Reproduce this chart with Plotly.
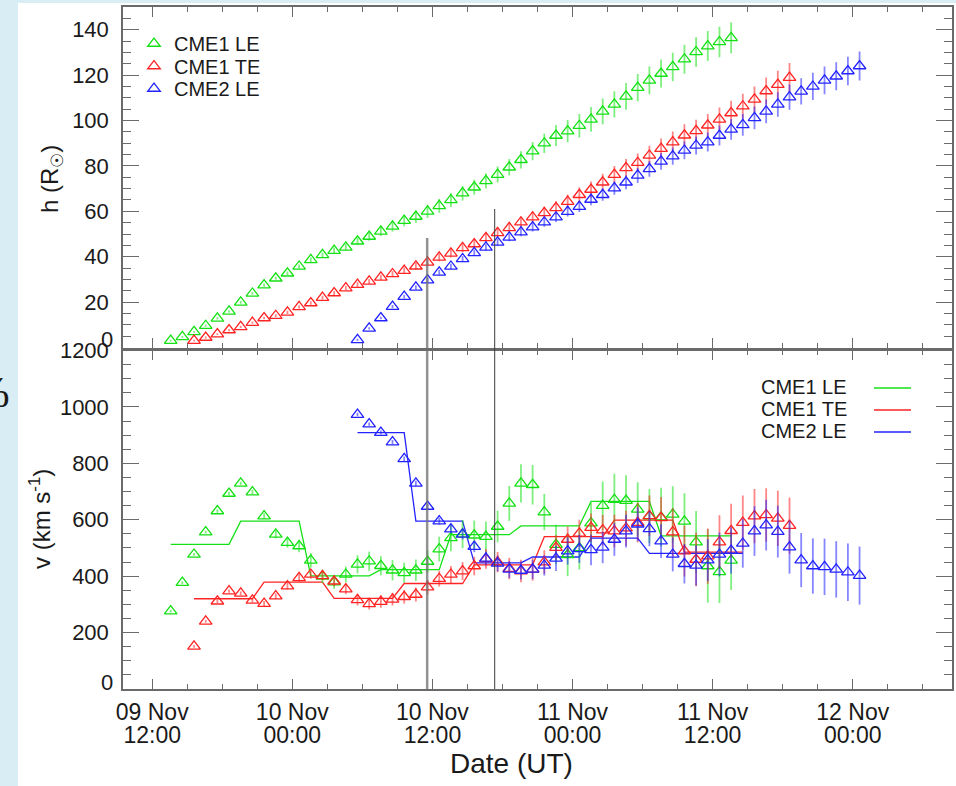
import plotly.graph_objects as go

# ---------------- data ----------------
green_time = [
    "2012-11-09 13:35", "2012-11-09 14:35", "2012-11-09 15:35", "2012-11-09 16:35", "2012-11-09 17:35",
    "2012-11-09 18:35", "2012-11-09 19:35", "2012-11-09 20:35", "2012-11-09 21:35", "2012-11-09 22:35",
    "2012-11-09 23:35",
    "2012-11-10 00:35", "2012-11-10 01:35", "2012-11-10 02:35", "2012-11-10 03:35", "2012-11-10 04:35",
    "2012-11-10 05:35", "2012-11-10 06:35", "2012-11-10 07:35", "2012-11-10 08:35", "2012-11-10 09:35",
    "2012-11-10 10:35", "2012-11-10 11:35", "2012-11-10 12:35", "2012-11-10 13:35", "2012-11-10 14:35",
    "2012-11-10 15:35", "2012-11-10 16:35", "2012-11-10 17:35", "2012-11-10 18:35", "2012-11-10 19:35",
    "2012-11-10 20:35", "2012-11-10 21:35", "2012-11-10 22:35", "2012-11-10 23:35",
    "2012-11-11 00:35", "2012-11-11 01:35", "2012-11-11 02:35", "2012-11-11 03:35", "2012-11-11 04:35",
    "2012-11-11 05:35", "2012-11-11 06:35", "2012-11-11 07:35", "2012-11-11 08:35", "2012-11-11 09:35",
    "2012-11-11 10:35", "2012-11-11 11:35", "2012-11-11 12:35", "2012-11-11 13:35",
]
red_time = [
    "2012-11-09 15:35", "2012-11-09 16:35", "2012-11-09 17:35", "2012-11-09 18:35", "2012-11-09 19:35",
    "2012-11-09 20:35", "2012-11-09 21:35", "2012-11-09 22:35", "2012-11-09 23:35",
    "2012-11-10 00:35", "2012-11-10 01:35", "2012-11-10 02:35", "2012-11-10 03:35", "2012-11-10 04:35",
    "2012-11-10 05:35", "2012-11-10 06:35", "2012-11-10 07:35", "2012-11-10 08:35", "2012-11-10 09:35",
    "2012-11-10 10:35", "2012-11-10 11:35", "2012-11-10 12:35", "2012-11-10 13:35", "2012-11-10 14:35",
    "2012-11-10 15:35", "2012-11-10 16:35", "2012-11-10 17:35", "2012-11-10 18:35", "2012-11-10 19:35",
    "2012-11-10 20:35", "2012-11-10 21:35", "2012-11-10 22:35", "2012-11-10 23:35",
    "2012-11-11 00:35", "2012-11-11 01:35", "2012-11-11 02:35", "2012-11-11 03:35", "2012-11-11 04:35",
    "2012-11-11 05:35", "2012-11-11 06:35", "2012-11-11 07:35", "2012-11-11 08:35", "2012-11-11 09:35",
    "2012-11-11 10:35", "2012-11-11 11:35", "2012-11-11 12:35", "2012-11-11 13:35", "2012-11-11 14:35",
    "2012-11-11 15:35", "2012-11-11 16:35", "2012-11-11 17:35", "2012-11-11 18:35",
]
blue_time = [
    "2012-11-10 05:35", "2012-11-10 06:35", "2012-11-10 07:35", "2012-11-10 08:35", "2012-11-10 09:35",
    "2012-11-10 10:35", "2012-11-10 11:35", "2012-11-10 12:35", "2012-11-10 13:35", "2012-11-10 14:35",
    "2012-11-10 15:35", "2012-11-10 16:35", "2012-11-10 17:35", "2012-11-10 18:35", "2012-11-10 19:35",
    "2012-11-10 20:35", "2012-11-10 21:35", "2012-11-10 22:35", "2012-11-10 23:35",
    "2012-11-11 00:35", "2012-11-11 01:35", "2012-11-11 02:35", "2012-11-11 03:35", "2012-11-11 04:35",
    "2012-11-11 05:35", "2012-11-11 06:35", "2012-11-11 07:35", "2012-11-11 08:35", "2012-11-11 09:35",
    "2012-11-11 10:35", "2012-11-11 11:35", "2012-11-11 12:35", "2012-11-11 13:35", "2012-11-11 14:35",
    "2012-11-11 15:35", "2012-11-11 16:35", "2012-11-11 17:35", "2012-11-11 18:35", "2012-11-11 19:35",
    "2012-11-11 20:35", "2012-11-11 21:35", "2012-11-11 22:35", "2012-11-11 23:35",
    "2012-11-12 00:35",
]

# heights (R_sun)
green_h = [3.0, 4.7, 6.9, 9.6, 12.8, 15.9, 19.9, 23.8, 27.5, 30.5,
           32.7, 35.7, 38.6, 40.8, 42.7, 44.1, 46.8, 48.9, 51.2, 53.4,
           55.9, 57.7, 60.0, 62.4, 65.0, 68.0, 70.6, 73.4, 76.2, 79.4,
           82.7, 86.5, 90.0, 93.4, 95.3, 97.7, 100.5, 104.0, 107.1, 110.6,
           114.5, 117.7, 120.7, 123.6, 127.0, 130.2, 132.8, 134.6, 136.4]
red_h = [3.0, 4.4, 5.9, 7.7, 9.1, 11.0, 13.0, 14.0, 15.5, 17.9,
         19.6, 22.0, 24.0, 26.2, 27.7, 29.1, 30.9, 32.4, 33.9, 35.8,
         37.5, 39.7, 41.5, 43.9, 45.6, 48.3, 50.5, 52.7, 55.2, 57.4,
         59.3, 61.5, 64.3, 67.3, 69.6, 72.8, 76.2, 79.1, 81.4, 84.6,
         87.6, 90.5, 93.5, 95.4, 97.9, 100.5, 103.3, 106.3, 109.3, 113.0,
         115.8, 118.9]
blue_h = [3.4, 8.4, 13.0, 18.0, 22.4, 26.5, 29.7, 33.1, 35.7, 39.0,
          41.7, 44.1, 46.3, 48.5, 50.8, 53.0, 55.2, 57.4, 59.9, 62.1,
          65.2, 67.3, 70.2, 72.8, 75.8, 78.7, 82.0, 84.3, 86.8, 89.0,
          90.5, 93.4, 96.1, 98.1, 101.2, 104.0, 107.1, 110.3, 112.8, 115.0,
          117.7, 119.5, 121.8, 124.0]

green_h_err = [0.4, 0.4, 0.4, 0.5, 0.5, 0.5, 0.6, 0.6, 0.7, 0.7,
               0.8, 0.9, 1.0, 1.1, 1.3, 1.5, 1.7, 1.9, 2.1, 2.3,
               2.5, 2.7, 2.9, 3.0, 3.1, 3.2, 3.3, 3.4, 3.5, 3.6,
               3.8, 4.0, 4.3, 4.6, 4.9, 5.2, 5.5, 5.7, 5.8, 5.9,
               6.0, 6.1, 6.2, 6.3, 6.4, 6.5, 6.6, 6.7, 6.8]
red_h_err = [0.4, 0.4, 0.4, 0.5, 0.5, 0.5, 0.6, 0.6, 0.7, 0.7,
             0.8, 0.8, 0.9, 1.0, 1.0, 1.1, 1.2, 1.3, 1.4, 1.5,
             1.6, 1.7, 1.8, 1.9, 2.0, 2.1, 2.2, 2.3, 2.4, 2.5,
             2.7, 2.9, 3.1, 3.3, 3.5, 3.7, 3.8, 3.9, 4.1, 4.3,
             4.5, 4.6, 4.8, 4.9, 5.0, 5.2, 5.4, 5.5, 5.7, 5.9,
             6.1, 6.4]
blue_h_err = [0.5, 0.5, 0.6, 0.7, 0.8, 0.9, 1.0, 1.1, 1.2, 1.3,
              1.4, 1.5, 1.6, 1.7, 1.8, 1.9, 2.0, 2.1, 2.2, 2.4,
              2.5, 2.7, 2.9, 3.1, 3.3, 3.5, 3.7, 3.8, 3.9, 4.0,
              4.2, 4.4, 4.6, 4.8, 5.0, 5.2, 5.4, 5.6, 5.8, 6.0,
              6.1, 6.2, 6.3, 6.4]

# speeds (km/s)
green_v = [276, 377, 477, 556, 631, 693, 729, 698, 613, 548,
           519, 507, 456, 399, 379, 406, 442, 453, 437, 421,
           412, 421, 452, 496, 536, 549, 545, 540, 576, 658,
           729, 724, 627, 512, 476, 500, 588, 650, 671, 668,
           637, 613, 609, 619, 594, 521, 436, 415, 456]
red_v = [151, 240, 311, 347, 339, 314, 303, 329, 365, 394,
         406, 401, 382, 354, 316, 302, 310, 318, 327, 335,
         361, 391, 406, 418, 436, 461, 450, 427, 418, 424,
         450, 501, 530, 552, 572, 563, 560, 570, 590, 614,
         607, 556, 489, 459, 471, 521, 561, 590, 613, 617,
         605, 579]
blue_v = [973, 939, 909, 875, 816, 729, 647, 595, 567, 548,
          505, 463, 445, 424, 420, 424, 438, 463, 489, 497,
          493, 502, 530, 560, 584, 568, 524, 477, 444, 438,
          457, 477, 491, 516, 560, 581, 558, 503, 457, 436,
          433, 424, 414, 402]

green_v_err = [5, 5, 5, 5, 6, 6, 6, 8, 10, 14,
               18, 22, 26, 24, 24, 28, 32, 34, 34, 36,
               36, 38, 40, 44, 48, 50, 52, 54, 56, 62,
               68, 70, 64, 70, 76, 76, 72, 86, 92, 90,
               96, 96, 104, 100, 100, 110, 130, 110, 105]
red_v_err = [5, 5, 6, 6, 7, 8, 9, 10, 12, 14,
             15, 16, 18, 18, 20, 20, 22, 22, 24, 25,
             26, 28, 30, 32, 33, 35, 36, 38, 40, 40,
             42, 44, 46, 48, 50, 54, 58, 62, 70, 72,
             74, 85, 90, 95, 98, 95, 96, 96, 96, 95,
             98, 100]
blue_v_err = [6, 6, 7, 8, 8, 9, 10, 12, 15, 18,
              20, 24, 28, 30, 32, 34, 36, 45, 48, 50,
              54, 56, 58, 58, 60, 62, 60, 60, 70, 71,
              74, 78, 82, 86, 88, 90, 92, 94, 96, 98,
              100, 100, 102, 103]

# averaged (stepped) speed profiles
green_fit = [513, 513, 513, 513, 513, 513, 595, 595, 595, 595,
             595, 595, 401, 401, 401, 401, 401, 401, 423, 423,
             423, 423, 423, 423, 547, 547, 547, 547, 547, 547,
             578, 578, 578, 578, 578, 578, 665, 665, 665, 665,
             665, 665, 543, 543, 543, 543, 543, 543, 543]
red_fit = [320, 320, 320, 320, 320, 320, 379, 379, 379, 379,
           379, 379, 321, 321, 321, 321, 321, 321, 374, 374,
           374, 374, 374, 374, 440, 440, 440, 440, 440, 440,
           540, 540, 540, 540, 540, 540, 599, 599, 599, 599,
           599, 599, 485, 485, 485, 485, 485, 485, None, None,
           None, None]
blue_fit = [909, 909, 909, 909, 909, 595, 595, 595, 595, 595,
            447, 447, 447, 447, 447, 468, 468, 468, 468, 468,
            535, 535, 535, 535, 535, 481, 481, 481, 481, 481,
            481, 481, 481, 481, None, None, None, None, None, None,
            None, None, None, None]

series_names = ["CME1 LE", "CME1 TE", "CME2 LE"]
tick_times_iso = ["2012-11-09 12:00", "2012-11-10 00:00", "2012-11-10 12:00",
                  "2012-11-11 00:00", "2012-11-11 12:00", "2012-11-12 00:00"]
tick_day = ["09 Nov", "10 Nov", "10 Nov", "11 Nov", "11 Nov", "12 Nov"]
tick_hour = ["12:00", "00:00", "12:00", "00:00", "12:00", "00:00"]
h_ticks = [20, 40, 60, 80, 100, 120, 140]
v_ticks = [200, 400, 600, 800, 1000, 1200]
event_times = ["2012-11-10 11:33", "2012-11-10 17:20"]

# ---------------- styling ----------------
FONT = "Liberation Sans, Arial, Helvetica, sans-serif"
TXT = "#1a1a1a"
AX = "#6a6a6a"
GREEN, GREEN_E = "rgb(20,225,20)", "rgba(20,225,20,0.55)"
RED, RED_E = "rgb(255,35,35)", "rgba(255,35,35,0.55)"
BLUE, BLUE_E = "rgb(35,35,255)", "rgba(35,35,255,0.55)"
BG = "#d9edf4"

W, H = 956, 786
L, R, T, B = 123, 4, 7, 97
PW, PH = W - L - R, H - T - B


def px(xp):
    return (xp - L) / PW


def py(yp):
    return (T + PH - yp) / PH


fig = go.Figure()

colors = [(GREEN, GREEN_E), (RED, RED_E), (BLUE, BLUE_E)]
tops = [(green_time, green_h, green_h_err), (red_time, red_h, red_h_err), (blue_time, blue_h, blue_h_err)]
bots = [(green_time, green_v, green_v_err), (red_time, red_v, red_v_err), (blue_time, blue_v, blue_v_err)]
fits = [green_fit, red_fit, blue_fit]
legend_ids = ["legend", "legend2", "legend3"]

for (t, h, e), (c, ce), nm, lg in zip(tops, colors, series_names, legend_ids):
    fig.add_trace(go.Scatter(
        x=t, y=h, mode="markers", name=nm, xaxis="x", yaxis="y", legend=lg,
        marker=dict(symbol="triangle-up-open", size=11, color=c, line=dict(width=1.3, color=c)),
        error_y=dict(type="data", array=e, color=ce, thickness=1.8, width=0),
    ))

for (t, v, e), (c, ce), nm, f in zip(bots, colors, series_names, fits):
    fig.add_trace(go.Scatter(
        x=t, y=f, mode="lines", name=nm + " fit", xaxis="x2", yaxis="y2", showlegend=False,
        line=dict(color=c, width=1.3), connectgaps=False,
    ))
for (t, v, e), (c, ce), nm in zip(bots, colors, series_names):
    fig.add_trace(go.Scatter(
        x=t, y=v, mode="markers", name=nm, xaxis="x2", yaxis="y2", showlegend=False,
        marker=dict(symbol="triangle-up-open", size=11, color=c, line=dict(width=1.3, color=c)),
        error_y=dict(type="data", array=e, color=ce, thickness=1.8, width=0),
    ))

# invisible carrier so the second row of time labels (x3) is drawn
fig.add_trace(go.Scatter(
    x=blue_time, y=blue_v, mode="markers", xaxis="x3", yaxis="y2", showlegend=False,
    marker=dict(opacity=0, size=1), hoverinfo="skip", name="",
))

top_dom = [py(347.5), 1.0]
bot_dom = [0.0, py(350.5)]
xrange = ["2012-11-09 09:30", "2012-11-12 08:30"]

xcommon = dict(
    type="date", range=xrange, showline=True, linecolor=AX, linewidth=1.5, mirror="ticks",
    ticks="inside", ticklen=10, tickwidth=1.2, tickcolor=AX,
    tickmode="array", tickvals=tick_times_iso,
    minor=dict(tickmode="linear", tick0="2012-11-09 00:00", dtick=3 * 3600 * 1000,
               ticks="inside", ticklen=5, tickwidth=1.2, tickcolor=AX),
    showgrid=False, zeroline=False, fixedrange=True,
)
ycommon = dict(
    showline=True, linecolor=AX, linewidth=1.5, mirror="ticks",
    ticks="inside", ticklen=16, tickwidth=1.2, tickcolor=AX,
    tickfont=dict(family=FONT, size=22, color=TXT), ticklabelstandoff=8,
    showgrid=False, zeroline=False,
)

legend_rows_top = [43, 65.5, 88]
legend_layout = {}
for lg, yr in zip(legend_ids, legend_rows_top):
    legend_layout[lg] = dict(x=px(134), y=py(yr - 19), xanchor="left", yanchor="top",
                             font=dict(family=FONT, size=20, color=TXT), bgcolor="rgba(0,0,0,0)",
                             itemwidth=30, tracegroupgap=0)

fig.update_layout(
    width=W, height=H,
    margin=dict(l=L, r=R, t=T, b=B, autoexpand=False),
    paper_bgcolor=BG, plot_bgcolor="white",
    font=dict(family=FONT, color=TXT),
    xaxis=dict(**xcommon, domain=[0, 1], anchor="y", showticklabels=False, matches="x2"),
    xaxis2=dict(**xcommon, domain=[0, 1], anchor="y2",
                ticktext=tick_day,
                tickfont=dict(family=FONT, size=23, color=TXT), ticklabelstandoff=2),
    xaxis3=dict(type="date", range=xrange, overlaying="x2", anchor="y2", side="bottom",
                showline=False, ticks="", tickmode="array", tickvals=tick_times_iso,
                ticktext=tick_hour, tickfont=dict(family=FONT, size=23, color=TXT),
                ticklabelstandoff=30, showgrid=False, zeroline=False, fixedrange=True),
    yaxis=dict(**ycommon, domain=top_dom, anchor="x", range=[0, 150],
               tickmode="array", tickvals=h_ticks, ticktext=[str(v) for v in h_ticks],
               minor=dict(tickmode="linear", tick0=0, dtick=5, ticks="inside",
                          ticklen=8, tickwidth=1.2, tickcolor=AX)),
    yaxis2=dict(**ycommon, domain=bot_dom, anchor="x2", range=[0, 1200],
                tickmode="array", tickvals=v_ticks, ticktext=[str(v) for v in v_ticks],
                minor=dict(tickmode="linear", tick0=0, dtick=50, ticks="inside",
                           ticklen=8, tickwidth=1.2, tickcolor=AX)),
    showlegend=True,
    **legend_layout,
)

shapes = [
    # white page area over the light-blue frame
    dict(type="rect", xref="paper", yref="paper", x0=px(18), x1=px(W + 5), y0=py(H + 5), y1=py(3),
         fillcolor="white", line=dict(width=0), layer="below"),
    # event lines
    dict(type="line", xref="x2", yref="paper", x0=event_times[0], x1=event_times[0],
         y0=0, y1=py(238), line=dict(color="rgba(110,110,110,0.75)", width=2.5)),
    dict(type="line", xref="x2", yref="paper", x0=event_times[1], x1=event_times[1],
         y0=0, y1=py(209), line=dict(color="#3a3a3a", width=1)),
]

annotations = [
    dict(text="0", xref="paper", yref="paper", x=px(L - 8), y=py(339), xanchor="right", yanchor="middle",
         showarrow=False, font=dict(family=FONT, size=22, color=TXT)),
    dict(text="0", xref="paper", yref="paper", x=px(L - 8), y=py(682), xanchor="right", yanchor="middle",
         showarrow=False, font=dict(family=FONT, size=22, color=TXT)),
    dict(text="h (R<sub>☉</sub>)", xref="paper", yref="paper", x=px(51), y=py(179), textangle=-90,
         xanchor="center", yanchor="middle", showarrow=False, font=dict(family=FONT, size=24, color=TXT)),
    dict(text="v (km s<sup>-1</sup>)", xref="paper", yref="paper", x=px(40), y=py(519), textangle=-90,
         xanchor="center", yanchor="middle", showarrow=False, font=dict(family=FONT, size=24, color=TXT)),
    dict(text="Date (UT)", xref="paper", yref="paper", x=px(511), y=py(764),
         xanchor="center", yanchor="middle", showarrow=False, font=dict(family=FONT, size=28, color=TXT)),
    dict(text="%", xref="paper", yref="paper", x=px(12), y=py(393), xanchor="right", yanchor="middle",
         showarrow=False, font=dict(family="Liberation Serif, DejaVu Serif, serif", size=44, color=TXT)),
]

leg_rows = [387, 409, 431]
for nm, (c, ce), yr in zip(series_names, colors, leg_rows):
    annotations.append(dict(text=nm, xref="paper", yref="paper", x=px(849), y=py(yr),
                            xanchor="right", yanchor="middle", showarrow=False,
                            font=dict(family=FONT, size=20, color=TXT)))
    shapes.append(dict(type="line", xref="paper", yref="paper", x0=px(874), x1=px(911),
                       y0=py(yr + 1), y1=py(yr + 1), line=dict(color=c, width=1.3)))

fig.update_layout(shapes=shapes, annotations=annotations)

fig.write_html("out.html")
